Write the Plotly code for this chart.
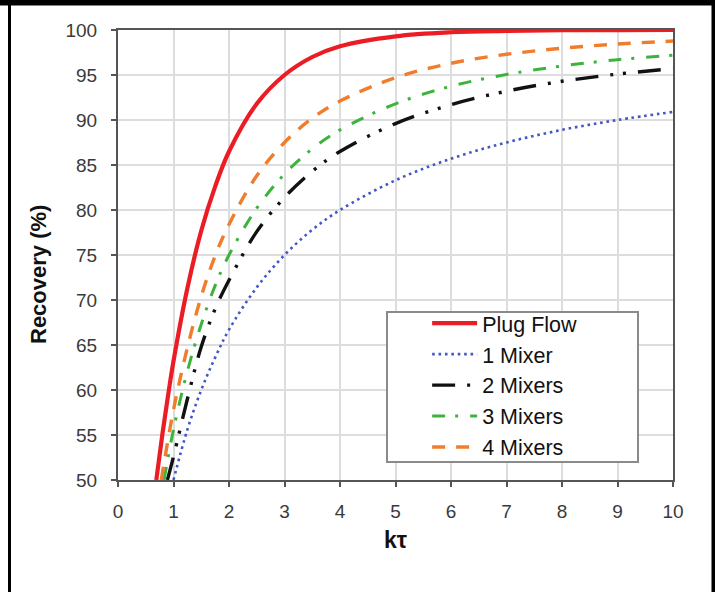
import plotly.graph_objects as go

# ---- data ----
plug_x = [0.69, 0.8, 0.9, 1.0, 1.25, 1.5, 1.75, 2.0, 2.5, 3.0, 3.5, 4.0, 5.0, 6.0, 7.0, 8.0, 9.0, 10.0]
plug_y = [50.0, 55.1, 59.3, 63.2, 71.3, 77.7, 82.6, 86.5, 91.8, 95.0, 97.0, 98.2, 99.3, 99.75, 99.9, 99.97, 99.99, 100.0]

mix1_x = [1.0, 1.25, 1.5, 1.75, 2.0, 2.5, 3.0, 3.5, 4.0, 5.0, 6.0, 7.0, 8.0, 9.0, 10.0]
mix1_y = [50.0, 55.6, 60.0, 63.6, 66.7, 71.4, 75.0, 77.8, 80.0, 83.3, 85.7, 87.5, 88.9, 90.0, 90.9]

mix2_x = [0.89, 1.0, 1.25, 1.5, 1.75, 2.0, 2.5, 3.0, 3.5, 4.0, 5.0, 6.0, 7.0, 8.0, 9.0, 10.0]
mix2_y = [50.0, 52.6, 59.0, 64.8, 69.0, 72.2, 77.6, 81.4, 84.3, 86.5, 89.6, 91.7, 93.2, 94.3, 95.1, 95.7]

mix3_x = [0.83, 1.0, 1.25, 1.5, 1.75, 2.0, 2.5, 3.0, 3.5, 4.0, 5.0, 6.0, 7.0, 8.0, 9.0, 10.0]
mix3_y = [50.0, 55.6, 62.1, 67.3, 71.6, 75.0, 80.2, 84.0, 86.8, 88.9, 91.8, 93.75, 95.06, 96.0, 96.7, 97.2]

mix4_x = [0.78, 1.0, 1.25, 1.5, 1.75, 2.0, 2.5, 3.0, 3.5, 4.0, 5.0, 6.0, 7.0, 8.0, 9.0, 10.0]
mix4_y = [50.0, 57.8, 64.7, 70.4, 74.9, 78.4, 83.8, 87.5, 90.2, 92.1, 94.7, 96.3, 97.3, 97.97, 98.44, 98.77]

names = ["Plug Flow", "1 Mixer", "2 Mixers", "3 Mixers", "4 Mixers"]
x_ticks = list(range(0, 11))
y_ticks = list(range(50, 101, 5))

FONT = "Liberation Sans, Arial, sans-serif"

series = [
    (plug_x, plug_y, dict(color="#ec1c24", width=4.2, dash="solid")),
    (mix1_x, mix1_y, dict(color="#4357c6", width=2.6, dash="2.6px,3.8px")),
    (mix2_x, mix2_y, dict(color="#111111", width=3.4, dash="23px,12px,3px,10px,3px,12px")),
    (mix3_x, mix3_y, dict(color="#3cb43c", width=3.0, dash="13px,10px,3px,12px")),
    (mix4_x, mix4_y, dict(color="#f07d2e", width=3.4, dash="13px,11px")),
]

fig = go.Figure()
for (xs, ys, ln), nm in zip(series, names):
    fig.add_trace(go.Scatter(x=xs, y=ys, name=nm, mode="lines",
                             line=dict(shape="spline", smoothing=1.0, **ln)))

axis_common = dict(
    showgrid=True, gridcolor="#dddddd", gridwidth=1.5,
    showline=True, linecolor="#555555", linewidth=2, mirror=True,
    ticks="outside", ticklen=5, tickcolor="#555555", tickwidth=1.5,
    tickfont=dict(family=FONT, size=19, color="#3a3a3a"),
    zeroline=False, fixedrange=True,
)

fig.update_layout(
    width=715, height=592,
    margin=dict(l=118, r=42, t=30, b=112),
    paper_bgcolor="white", plot_bgcolor="white",
    xaxis=dict(range=[0, 10], tickvals=x_ticks, ticklabelstandoff=8, **axis_common),
    yaxis=dict(range=[50, 100], tickvals=y_ticks, ticklabelstandoff=10, **axis_common),
    showlegend=True,
    legend=dict(x=0.557, xanchor="left", y=0.394, yanchor="top",
                bgcolor="rgba(0,0,0,0)", borderwidth=0,
                font=dict(family=FONT, size=21.5, color="#111111"),
                itemwidth=45, tracegroupgap=0),
    shapes=[
        # legend box
        dict(type="rect", xref="paper", yref="paper",
             x0=(387 - 118) / 555, x1=(638 - 118) / 555,
             y0=(480 - 462) / 450, y1=(480 - 312) / 450,
             line=dict(color="#8a8a8a", width=2), fillcolor="white", layer="above"),
        # outer black frame of the picture
        dict(type="line", xref="paper", yref="paper",
             x0=(0 - 118) / 555, x1=(715 - 118) / 555,
             y0=(480 - 2.5) / 450, y1=(480 - 2.5) / 450,
             line=dict(color="black", width=6)),
        dict(type="line", xref="paper", yref="paper",
             x0=(9.5 - 118) / 555, x1=(9.5 - 118) / 555,
             y0=(480 - 0) / 450, y1=(480 - 592) / 450,
             line=dict(color="black", width=3)),
        dict(type="line", xref="paper", yref="paper",
             x0=(713.5 - 118) / 555, x1=(713.5 - 118) / 555,
             y0=(480 - 0) / 450, y1=(480 - 592) / 450,
             line=dict(color="black", width=4)),
    ],
    annotations=[
        dict(text="<b>Recovery (%)</b>", xref="paper", yref="paper",
             x=(38 - 118) / 555, y=(480 - 275) / 450, textangle=-90,
             showarrow=False, font=dict(family=FONT, size=22, color="#111111"),
             xanchor="center", yanchor="middle"),
        dict(text="<b>kτ</b>", xref="paper", yref="paper",
             x=0.5, y=(480 - 540) / 450,
             showarrow=False, font=dict(family=FONT, size=23, color="#111111"),
             xanchor="center", yanchor="middle"),
    ],
)

fig.write_html("out.html", config={"displayModeBar": False},
               post_script="document.body.style.margin='0';")
